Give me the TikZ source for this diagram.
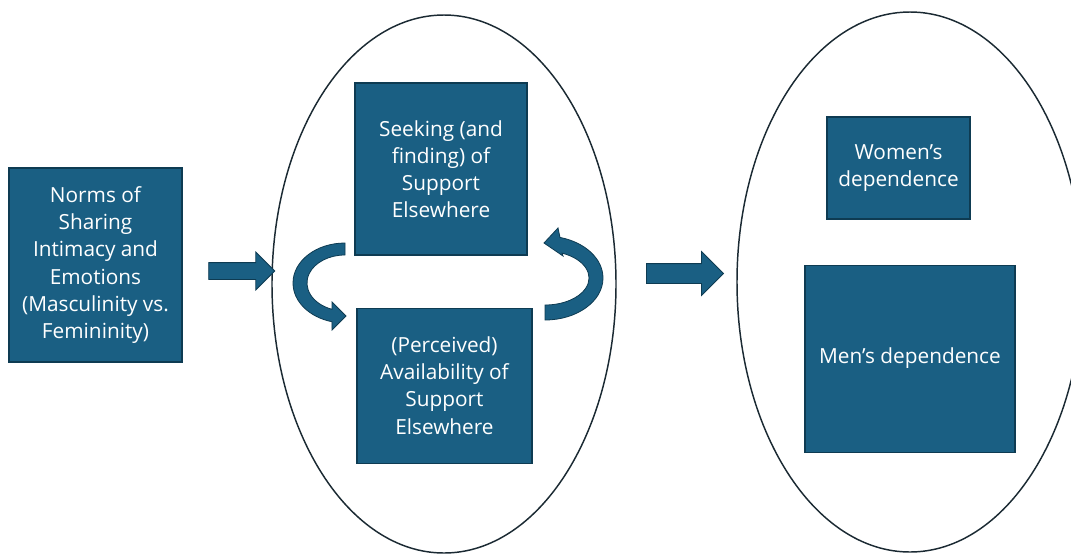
\documentclass[tikz,border=0pt]{standalone}
\usepackage{fontspec}
\setmainfont{Open Sans}
\usetikzlibrary{positioning,shapes.geometric,shapes.arrows,arrows.meta}
\definecolor{boxblue}{HTML}{1A5F83}
\definecolor{boxline}{HTML}{0E3B52}
\definecolor{ovalline}{HTML}{1B2A33}
\tikzset{
  tile/.style args={#1,#2}{
  rectangle,
  draw=boxline,
  line width=0.8pt,
  fill=boxblue,
  text=white,
  align=center,
  inner sep=0pt,
  font=\fontsize{15.6}{20.4}\selectfont,
  minimum width=#1*0.75pt,
  minimum height=#2*0.75pt,
  },
  oval/.style args={#1,#2}{
  ellipse,
  draw=ovalline,
  line width=1.1pt,
  inner sep=0pt,
  minimum width=#1*0.75pt,
  minimum height=#2*0.75pt,
  },
  blockarrow/.style args={#1,#2,#3}{
  single arrow,
  draw=boxline,
  fill=boxblue,
  line width=0.6pt,
  inner xsep=0pt,
  inner ysep=#2*0.375pt,
  single arrow tip angle=90,
  minimum height=#1*0.75pt,
  single arrow head extend=#3*0.75pt,
  },
  uturn/.style={fill=boxblue,draw=boxline,line width=0.6pt}
}
\begin{document}
\begin{tikzpicture}[x=0.75pt,y=-0.75pt]
  \useasboundingbox (0,0) rectangle (1071,554);

  % the two groups
  \node [oval={344,538}] (oval1) at (444,284) {};
  \node [oval={346,540}] (oval2) at (910,282) {};

  \node [tile={173,194}] (norms) at (95.5,265)
    {Norms of\\Sharing\\Intimacy and\\Emotions\\(Masculinity vs.\\Femininity)};

  \node [tile={172,172}] (seek) at (441,169)
    {Seeking (and\\finding) of\\Support\\Elsewhere};
  \node [tile={175,155},below=39pt of seek,xshift=2.6pt] (avail)
    {(Perceived)\\Availability of\\Support\\Elsewhere};

  \node [tile={143,102}] (women) at (898.5,168) {Women’s\\dependence};
  \node [tile={210,187},below=33.75pt of women,xshift=8.6pt] (men)
    {Men’s dependence};

  % block arrows between the groups
  \node [blockarrow={66,16,10.5}] (arr1) at (237.5,271) {};
  \node [blockarrow={77,19,12}] (arr2) at (680,273.5) {};

  % turning arrows inside the first group
  \path [uturn] (345,243) arc [start angle=270,end angle=104.5,x radius=52,y radius=40]
    -- (332,330) -- (346,316) -- (332,302) -- (332,309.3)
    arc [start angle=110,end angle=270,x radius=38,y radius=28] -- cycle;
  \path [uturn] (545,320) arc [start angle=90,end angle=-75,x radius=58,y radius=42]
    -- (558,228) -- (544,243) -- (563,256) -- (562,253.1)
    arc [start angle=-67.3,end angle=90,x radius=44,y radius=27] -- cycle;

\end{tikzpicture}
\end{document}
